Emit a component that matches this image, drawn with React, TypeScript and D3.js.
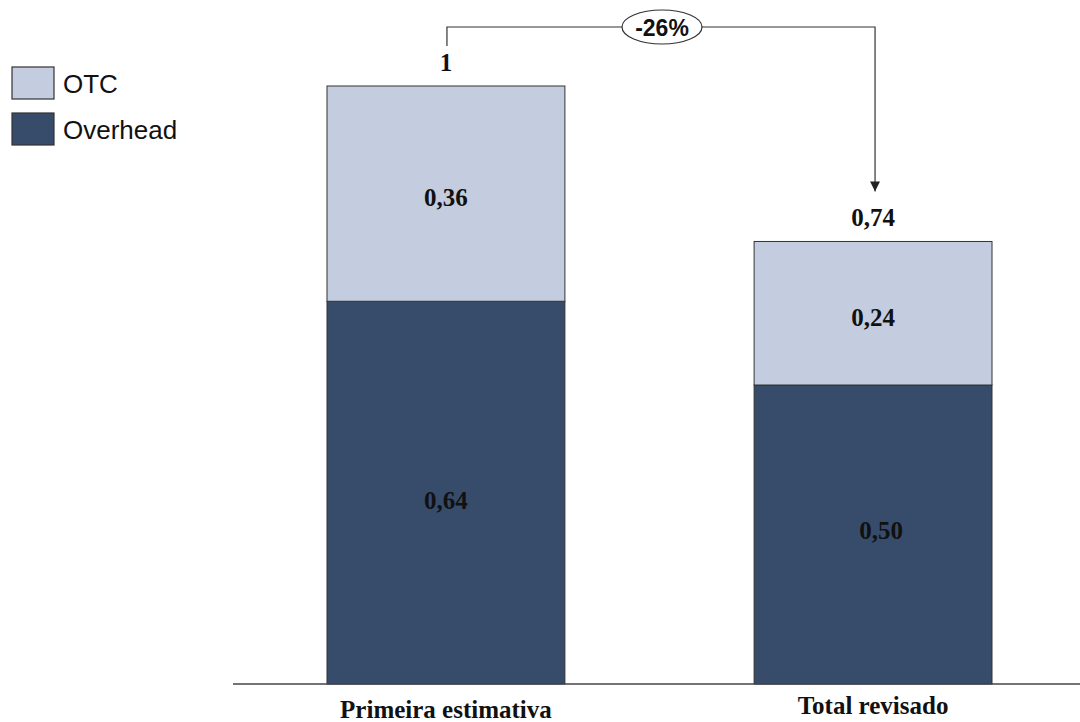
import { useRef, useEffect } from "react";
import * as d3 from "d3";

// Data
const categories = ["Primeira estimativa", "Total revisado"];
const overhead = [0.64, 0.5];
const otc = [0.36, 0.24];
const totals = ["1", "0,74"];
const overheadLabels = ["0,64", "0,50"];
const otcLabels = ["0,36", "0,24"];
const changeLabel = "-26%";

const COLORS = { otc: "#c3cddf", overhead: "#374c6b", stroke: "#333333" };

export default function App() {
  const svgRef = useRef<SVGSVGElement>(null);

  useEffect(() => {
    document.body.style.margin = "0";
    if (!svgRef.current) return;
    const svg = d3.select(svgRef.current);
    svg.selectAll("*").remove();

    const W = 1080;
    const H = 722;
    svg.attr("width", W).attr("height", H);

    const x = d3.scaleBand<string>().domain(categories).range([327, 992]).paddingInner(0.443).paddingOuter(0);
    const y = d3.scaleLinear().domain([0, 1]).range([684, 86]);
    const serif = "'Liberation Serif', 'Times New Roman', serif";
    const sans = "'Liberation Sans', Arial, sans-serif";

    const stacked = categories.map((c, i) => ({ cat: c, oh: overhead[i], otc: otc[i], i }));

    // Overhead segments
    svg.selectAll(".oh").data(stacked).enter().append("rect")
      .attr("x", (d) => x(d.cat)!)
      .attr("width", x.bandwidth())
      .attr("y", (d) => y(d.oh))
      .attr("height", (d) => y(0) - y(d.oh))
      .attr("fill", COLORS.overhead)
      .attr("stroke", COLORS.stroke).attr("stroke-width", 1);

    // OTC segments
    svg.selectAll(".otc").data(stacked).enter().append("rect")
      .attr("x", (d) => x(d.cat)!)
      .attr("width", x.bandwidth())
      .attr("y", (d) => y(d.oh + d.otc))
      .attr("height", (d) => y(d.oh) - y(d.oh + d.otc))
      .attr("fill", COLORS.otc)
      .attr("stroke", COLORS.stroke).attr("stroke-width", 1);

    // Segment labels
    const segText = (sel: any) => sel
      .attr("text-anchor", "middle").attr("dominant-baseline", "central")
      .style("font-family", serif).style("font-weight", "700").style("font-size", "25px").style("fill", "#111");

    svg.selectAll(".ohLab").data(stacked).enter().append("text")
      .attr("x", (d) => x(d.cat)! + x.bandwidth() / 2 + (d.i === 1 ? 8 : 0))
      .attr("y", (d) => (y(0) + y(d.oh)) / 2 + (d.i === 0 ? 8 : -4))
      .call(segText)
      .text((d) => overheadLabels[d.i]);

    svg.selectAll(".otcLab").data(stacked).enter().append("text")
      .attr("x", (d) => x(d.cat)! + x.bandwidth() / 2)
      .attr("y", (d) => (y(d.oh) + y(d.oh + d.otc)) / 2 + 4)
      .call(segText)
      .text((d) => otcLabels[d.i]);

    // Totals above bars
    svg.selectAll(".tot").data(stacked).enter().append("text")
      .attr("x", (d) => x(d.cat)! + x.bandwidth() / 2)
      .attr("y", (d) => y(d.oh + d.otc) - 24)
      .call(segText)
      .text((d) => totals[d.i]);

    // Baseline
    svg.append("line").attr("x1", 233).attr("x2", W).attr("y1", y(0)).attr("y2", y(0))
      .attr("stroke", "#444").attr("stroke-width", 1.5);

    // Category labels
    svg.selectAll(".cat").data(stacked).enter().append("text")
      .attr("x", (d) => x(d.cat)! + x.bandwidth() / 2)
      .attr("y", (d) => (d.i === 0 ? 718 : 714))
      .attr("text-anchor", "middle")
      .style("font-family", serif).style("font-weight", "700").style("font-size", "25px").style("fill", "#111")
      .text((d) => d.cat);

    // Change bracket
    const cx0 = x(categories[0])! + x.bandwidth() / 2 + 1;
    const cx1 = x(categories[1])! + x.bandwidth() / 2 + 2;
    const topY = 27;
    svg.append("defs").append("marker")
      .attr("id", "arrow").attr("viewBox", "0 0 10 10").attr("refX", 10).attr("refY", 5)
      .attr("markerWidth", 10).attr("markerHeight", 10).attr("markerUnits", "userSpaceOnUse").attr("orient", "auto")
      .append("path").attr("d", "M0,0 L10,5 L0,10 z").attr("fill", "#222");
    svg.append("path")
      .attr("d", `M${cx0},${y(1) - 40} V${topY} H${cx1} V${y(0.74) - 50}`)
      .attr("fill", "none").attr("stroke", "#333").attr("stroke-width", 1.2)
      .attr("marker-end", "url(#arrow)");
    const midX = 662;
    svg.append("ellipse").attr("cx", midX).attr("cy", topY).attr("rx", 40).attr("ry", 17)
      .attr("fill", "white").attr("stroke", "#333").attr("stroke-width", 1.2);
    svg.append("text").attr("x", midX).attr("y", topY + 1)
      .attr("text-anchor", "middle").attr("dominant-baseline", "central")
      .style("font-family", sans).style("font-weight", "700").style("font-size", "23px").style("fill", "#111")
      .text(changeLabel);

    // Legend
    const legend = [
      { label: "OTC", color: COLORS.otc },
      { label: "Overhead", color: COLORS.overhead },
    ];
    const lg = svg.append("g").attr("transform", "translate(12,67)");
    legend.forEach((l, i) => {
      lg.append("rect").attr("x", 0).attr("y", i * 46).attr("width", 42).attr("height", 32)
        .attr("fill", l.color).attr("stroke", "#333").attr("stroke-width", 1.2);
      lg.append("text").attr("x", 51).attr("y", i * 46 + 17).attr("dominant-baseline", "central")
        .style("font-family", sans).style("font-size", "26px").style("fill", "#111")
        .text(l.label);
    });

    return () => {
      svg.selectAll("*").remove();
    };
  }, []);

  return (
    <div style={{ width: 1080, height: 722, background: "white" }}>
      <svg ref={svgRef} style={{ display: "block" }} />
    </div>
  );
}
